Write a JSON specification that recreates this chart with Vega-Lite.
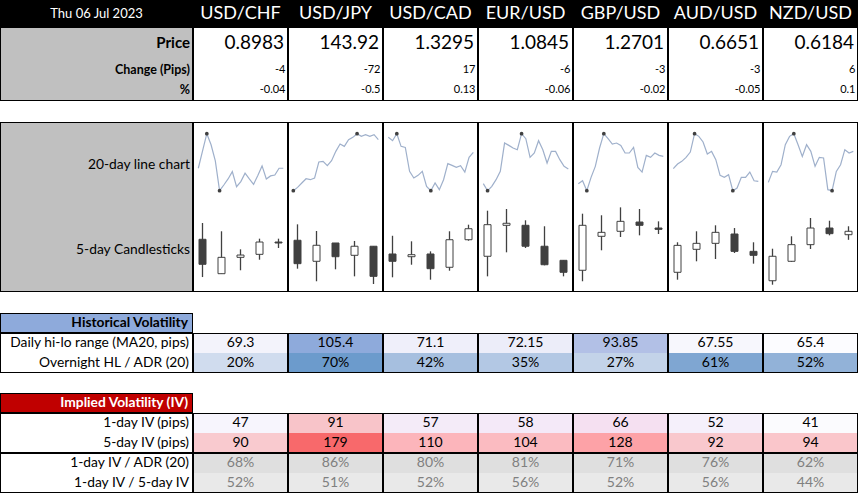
{
"$schema": "https://vega.github.io/schema/vega-lite/v6.json",
"padding": 0,
"background": "white",
"config": {"view": {"stroke": null}, "font": "Lato", "concat": {"spacing": 0}},
"datasets": {
"quotes": [
{"pair":"USD/CHF","price":0.8983,"change":-4,"pct":-0.04},
{"pair":"USD/JPY","price":143.92,"change":-72,"pct":-0.5},
{"pair":"USD/CAD","price":1.3295,"change":17,"pct":0.13},
{"pair":"EUR/USD","price":1.0845,"change":-6,"pct":-0.06},
{"pair":"GBP/USD","price":1.2701,"change":-3,"pct":-0.02},
{"pair":"AUD/USD","price":0.6651,"change":-3,"pct":-0.05},
{"pair":"NZD/USD","price":0.6184,"change":6,"pct":0.1}
],
"hist": [
{"pair":"USD/CHF","adr":69.3,"ovn":0.20},
{"pair":"USD/JPY","adr":105.4,"ovn":0.70},
{"pair":"USD/CAD","adr":71.1,"ovn":0.42},
{"pair":"EUR/USD","adr":72.15,"ovn":0.35},
{"pair":"GBP/USD","adr":93.85,"ovn":0.27},
{"pair":"AUD/USD","adr":67.55,"ovn":0.61},
{"pair":"NZD/USD","adr":65.4,"ovn":0.52}
],
"iv": [
{"pair":"USD/CHF","iv1":47,"iv5":90,"radr":0.68,"r5":0.52},
{"pair":"USD/JPY","iv1":91,"iv5":179,"radr":0.86,"r5":0.51},
{"pair":"USD/CAD","iv1":57,"iv5":110,"radr":0.80,"r5":0.52},
{"pair":"EUR/USD","iv1":58,"iv5":104,"radr":0.81,"r5":0.56},
{"pair":"GBP/USD","iv1":66,"iv5":128,"radr":0.71,"r5":0.52},
{"pair":"AUD/USD","iv1":52,"iv5":92,"radr":0.76,"r5":0.56},
{"pair":"NZD/USD","iv1":41,"iv5":94,"radr":0.62,"r5":0.44}
],
"spark": [
{"pair":"USD/CHF","kind":"line","day":1,"level":39.4},{"pair":"USD/CHF","kind":"line","day":2,"level":70},{"pair":"USD/CHF","kind":"line","day":3,"level":100},{"pair":"USD/CHF","kind":"line","day":4,"level":80.6},{"pair":"USD/CHF","kind":"line","day":5,"level":52.4},{"pair":"USD/CHF","kind":"line","day":6,"level":0},{"pair":"USD/CHF","kind":"line","day":7,"level":10},{"pair":"USD/CHF","kind":"line","day":8,"level":20.6},{"pair":"USD/CHF","kind":"line","day":9,"level":33.5},{"pair":"USD/CHF","kind":"line","day":10,"level":7.1},{"pair":"USD/CHF","kind":"line","day":11,"level":15.9},{"pair":"USD/CHF","kind":"line","day":12,"level":30.6},{"pair":"USD/CHF","kind":"line","day":13,"level":20.6},{"pair":"USD/CHF","kind":"line","day":14,"level":11.2},{"pair":"USD/CHF","kind":"line","day":15,"level":26.5},{"pair":"USD/CHF","kind":"line","day":16,"level":43.5},{"pair":"USD/CHF","kind":"line","day":17,"level":20.6},{"pair":"USD/CHF","kind":"line","day":18,"level":25.9},{"pair":"USD/CHF","kind":"line","day":19,"level":27.6},{"pair":"USD/CHF","kind":"line","day":20,"level":39.4},{"pair":"USD/CHF","kind":"line","day":21,"level":39.4},
{"pair":"USD/JPY","kind":"line","day":1,"level":0},{"pair":"USD/JPY","kind":"line","day":2,"level":5.8},{"pair":"USD/JPY","kind":"line","day":3,"level":13.5},{"pair":"USD/JPY","kind":"line","day":4,"level":21},{"pair":"USD/JPY","kind":"line","day":5,"level":19.3},{"pair":"USD/JPY","kind":"line","day":6,"level":22.2},{"pair":"USD/JPY","kind":"line","day":7,"level":50.3},{"pair":"USD/JPY","kind":"line","day":8,"level":51.5},{"pair":"USD/JPY","kind":"line","day":9,"level":43.9},{"pair":"USD/JPY","kind":"line","day":10,"level":52.6},{"pair":"USD/JPY","kind":"line","day":11,"level":69},{"pair":"USD/JPY","kind":"line","day":12,"level":81.9},{"pair":"USD/JPY","kind":"line","day":13,"level":77.8},{"pair":"USD/JPY","kind":"line","day":14,"level":89.5},{"pair":"USD/JPY","kind":"line","day":15,"level":93.6},{"pair":"USD/JPY","kind":"line","day":16,"level":100},{"pair":"USD/JPY","kind":"line","day":17,"level":95.3},{"pair":"USD/JPY","kind":"line","day":18,"level":98.2},{"pair":"USD/JPY","kind":"line","day":19,"level":95.3},{"pair":"USD/JPY","kind":"line","day":20,"level":98.2},{"pair":"USD/JPY","kind":"line","day":21,"level":89.5},
{"pair":"USD/CAD","kind":"line","day":1,"level":93.6},{"pair":"USD/CAD","kind":"line","day":2,"level":87.7},{"pair":"USD/CAD","kind":"line","day":3,"level":100},{"pair":"USD/CAD","kind":"line","day":4,"level":77.8},{"pair":"USD/CAD","kind":"line","day":5,"level":76},{"pair":"USD/CAD","kind":"line","day":6,"level":33.9},{"pair":"USD/CAD","kind":"line","day":7,"level":22.2},{"pair":"USD/CAD","kind":"line","day":8,"level":26.9},{"pair":"USD/CAD","kind":"line","day":9,"level":33.9},{"pair":"USD/CAD","kind":"line","day":10,"level":7.6},{"pair":"USD/CAD","kind":"line","day":11,"level":0},{"pair":"USD/CAD","kind":"line","day":12,"level":13.5},{"pair":"USD/CAD","kind":"line","day":13,"level":1.8},{"pair":"USD/CAD","kind":"line","day":14,"level":19.3},{"pair":"USD/CAD","kind":"line","day":15,"level":47.4},{"pair":"USD/CAD","kind":"line","day":16,"level":44.4},{"pair":"USD/CAD","kind":"line","day":17,"level":40.9},{"pair":"USD/CAD","kind":"line","day":18,"level":43.9},{"pair":"USD/CAD","kind":"line","day":19,"level":32.7},{"pair":"USD/CAD","kind":"line","day":20,"level":58.5},{"pair":"USD/CAD","kind":"line","day":21,"level":67.3},
{"pair":"EUR/USD","kind":"line","day":1,"level":12.3},{"pair":"EUR/USD","kind":"line","day":2,"level":0},{"pair":"EUR/USD","kind":"line","day":3,"level":7.6},{"pair":"EUR/USD","kind":"line","day":4,"level":19.3},{"pair":"EUR/USD","kind":"line","day":5,"level":33.9},{"pair":"EUR/USD","kind":"line","day":6,"level":83.6},{"pair":"EUR/USD","kind":"line","day":7,"level":79.5},{"pair":"EUR/USD","kind":"line","day":8,"level":74.9},{"pair":"EUR/USD","kind":"line","day":9,"level":71.9},{"pair":"EUR/USD","kind":"line","day":10,"level":100},{"pair":"EUR/USD","kind":"line","day":11,"level":91.2},{"pair":"EUR/USD","kind":"line","day":12,"level":58.5},{"pair":"EUR/USD","kind":"line","day":13,"level":66.1},{"pair":"EUR/USD","kind":"line","day":14,"level":87.7},{"pair":"EUR/USD","kind":"line","day":15,"level":71.9},{"pair":"EUR/USD","kind":"line","day":16,"level":48.5},{"pair":"EUR/USD","kind":"line","day":17,"level":69},{"pair":"EUR/USD","kind":"line","day":18,"level":69},{"pair":"EUR/USD","kind":"line","day":19,"level":54.4},{"pair":"EUR/USD","kind":"line","day":20,"level":42.7},{"pair":"EUR/USD","kind":"line","day":21,"level":38},
{"pair":"GBP/USD","kind":"line","day":1,"level":12.3},{"pair":"GBP/USD","kind":"line","day":2,"level":17.5},{"pair":"GBP/USD","kind":"line","day":3,"level":0},{"pair":"GBP/USD","kind":"line","day":4,"level":23.4},{"pair":"GBP/USD","kind":"line","day":5,"level":42.7},{"pair":"GBP/USD","kind":"line","day":6,"level":74.9},{"pair":"GBP/USD","kind":"line","day":7,"level":100},{"pair":"GBP/USD","kind":"line","day":8,"level":91.2},{"pair":"GBP/USD","kind":"line","day":9,"level":81.9},{"pair":"GBP/USD","kind":"line","day":10,"level":83.6},{"pair":"GBP/USD","kind":"line","day":11,"level":79.5},{"pair":"GBP/USD","kind":"line","day":12,"level":66.1},{"pair":"GBP/USD","kind":"line","day":13,"level":66.1},{"pair":"GBP/USD","kind":"line","day":14,"level":76},{"pair":"GBP/USD","kind":"line","day":15,"level":40.9},{"pair":"GBP/USD","kind":"line","day":16,"level":32.7},{"pair":"GBP/USD","kind":"line","day":17,"level":62},{"pair":"GBP/USD","kind":"line","day":18,"level":58.5},{"pair":"GBP/USD","kind":"line","day":19,"level":66.1},{"pair":"GBP/USD","kind":"line","day":20,"level":62},{"pair":"GBP/USD","kind":"line","day":21,"level":60.2},
{"pair":"AUD/USD","kind":"line","day":1,"level":38.6},{"pair":"AUD/USD","kind":"line","day":2,"level":46.8},{"pair":"AUD/USD","kind":"line","day":3,"level":51.5},{"pair":"AUD/USD","kind":"line","day":4,"level":58.5},{"pair":"AUD/USD","kind":"line","day":5,"level":67.8},{"pair":"AUD/USD","kind":"line","day":6,"level":100},{"pair":"AUD/USD","kind":"line","day":7,"level":95.3},{"pair":"AUD/USD","kind":"line","day":8,"level":85.4},{"pair":"AUD/USD","kind":"line","day":9,"level":64.3},{"pair":"AUD/USD","kind":"line","day":10,"level":69},{"pair":"AUD/USD","kind":"line","day":11,"level":54.4},{"pair":"AUD/USD","kind":"line","day":12,"level":26.9},{"pair":"AUD/USD","kind":"line","day":13,"level":23.4},{"pair":"AUD/USD","kind":"line","day":14,"level":28.1},{"pair":"AUD/USD","kind":"line","day":15,"level":0},{"pair":"AUD/USD","kind":"line","day":16,"level":4.7},{"pair":"AUD/USD","kind":"line","day":17,"level":23.4},{"pair":"AUD/USD","kind":"line","day":18,"level":23.4},{"pair":"AUD/USD","kind":"line","day":19,"level":32.7},{"pair":"AUD/USD","kind":"line","day":20,"level":17.5},{"pair":"AUD/USD","kind":"line","day":21,"level":16.4},
{"pair":"NZD/USD","kind":"line","day":1,"level":14.6},{"pair":"NZD/USD","kind":"line","day":2,"level":33.9},{"pair":"NZD/USD","kind":"line","day":3,"level":32.7},{"pair":"NZD/USD","kind":"line","day":4,"level":45.6},{"pair":"NZD/USD","kind":"line","day":5,"level":80.7},{"pair":"NZD/USD","kind":"line","day":6,"level":95.3},{"pair":"NZD/USD","kind":"line","day":7,"level":100},{"pair":"NZD/USD","kind":"line","day":8,"level":80.7},{"pair":"NZD/USD","kind":"line","day":9,"level":60.2},{"pair":"NZD/USD","kind":"line","day":10,"level":80.7},{"pair":"NZD/USD","kind":"line","day":11,"level":69},{"pair":"NZD/USD","kind":"line","day":12,"level":42.7},{"pair":"NZD/USD","kind":"line","day":13,"level":58.5},{"pair":"NZD/USD","kind":"line","day":14,"level":57.3},{"pair":"NZD/USD","kind":"line","day":15,"level":1.8},{"pair":"NZD/USD","kind":"line","day":16,"level":0},{"pair":"NZD/USD","kind":"line","day":17,"level":33.9},{"pair":"NZD/USD","kind":"line","day":18,"level":45.6},{"pair":"NZD/USD","kind":"line","day":19,"level":71.9},{"pair":"NZD/USD","kind":"line","day":20,"level":66.1},{"pair":"NZD/USD","kind":"line","day":21,"level":69},
{"pair":"USD/CHF","kind":"candle","day":1,"open":59.9,"high":78.4,"low":17.0,"close":31.5},
{"pair":"USD/CHF","kind":"candle","day":2,"open":20.8,"high":69.0,"low":20.8,"close":39.4},
{"pair":"USD/CHF","kind":"candle","day":3,"open":39.4,"high":48.5,"low":24.7,"close":42.0},
{"pair":"USD/CHF","kind":"candle","day":4,"open":42.8,"high":60.6,"low":36.7,"close":56.8},
{"pair":"USD/CHF","kind":"candle","day":5,"open":56.8,"high":60.6,"low":50.0,"close":55.7},
{"pair":"USD/JPY","kind":"candle","day":1,"open":58.8,"high":76.9,"low":26.5,"close":32.2},
{"pair":"USD/JPY","kind":"candle","day":2,"open":34.9,"high":69.3,"low":12.2,"close":53.1},
{"pair":"USD/JPY","kind":"candle","day":3,"open":55.7,"high":55.7,"low":25.8,"close":40.1},
{"pair":"USD/JPY","kind":"candle","day":4,"open":41.7,"high":58.0,"low":17.8,"close":52.0},
{"pair":"USD/JPY","kind":"candle","day":5,"open":52.0,"high":52.0,"low":9.1,"close":17.8},
{"pair":"USD/CAD","kind":"candle","day":1,"open":43.2,"high":63.9,"low":16.7,"close":34.9},
{"pair":"USD/CAD","kind":"candle","day":2,"open":40.1,"high":57.6,"low":31.0,"close":42.4},
{"pair":"USD/CAD","kind":"candle","day":3,"open":43.2,"high":46.2,"low":14.0,"close":26.5},
{"pair":"USD/CAD","kind":"candle","day":4,"open":28.1,"high":69.0,"low":24.2,"close":59.4},
{"pair":"USD/CAD","kind":"candle","day":5,"open":59.4,"high":76.5,"low":58.3,"close":71.9},
{"pair":"EUR/USD","kind":"candle","day":1,"open":40.6,"high":92.4,"low":17.8,"close":76.5},
{"pair":"EUR/USD","kind":"candle","day":2,"open":75.8,"high":94.3,"low":45.1,"close":78.1},
{"pair":"EUR/USD","kind":"candle","day":3,"open":75.8,"high":81.5,"low":50.0,"close":52.0},
{"pair":"EUR/USD","kind":"candle","day":4,"open":52.0,"high":74.7,"low":30.3,"close":31.0},
{"pair":"EUR/USD","kind":"candle","day":5,"open":36.0,"high":36.0,"low":17.8,"close":22.4},
{"pair":"GBP/USD","kind":"candle","day":1,"open":24.7,"high":89.0,"low":12.2,"close":75.8},
{"pair":"GBP/USD","kind":"candle","day":2,"open":63.3,"high":87.2,"low":47.4,"close":67.8},
{"pair":"GBP/USD","kind":"candle","day":3,"open":69.0,"high":96.2,"low":62.5,"close":80.3},
{"pair":"GBP/USD","kind":"candle","day":4,"open":79.5,"high":94.3,"low":64.4,"close":75.8},
{"pair":"GBP/USD","kind":"candle","day":5,"open":72.7,"high":80.3,"low":65.9,"close":71.2},
{"pair":"AUD/USD","kind":"candle","day":1,"open":22.4,"high":56.5,"low":14.0,"close":53.0},
{"pair":"AUD/USD","kind":"candle","day":2,"open":48.5,"high":69.0,"low":34.9,"close":55.3},
{"pair":"AUD/USD","kind":"candle","day":3,"open":55.3,"high":75.8,"low":37.5,"close":67.8},
{"pair":"AUD/USD","kind":"candle","day":4,"open":65.9,"high":72.7,"low":44.3,"close":46.2},
{"pair":"AUD/USD","kind":"candle","day":5,"open":46.2,"high":56.5,"low":32.2,"close":41.7},
{"pair":"NZD/USD","kind":"candle","day":1,"open":12.8,"high":49.2,"low":8.3,"close":40.6},
{"pair":"NZD/USD","kind":"candle","day":2,"open":34.9,"high":63.3,"low":34.1,"close":53.8},
{"pair":"NZD/USD","kind":"candle","day":3,"open":53.8,"high":84.1,"low":48.9,"close":72.7},
{"pair":"NZD/USD","kind":"candle","day":4,"open":72.7,"high":81.0,"low":64.4,"close":66.3},
{"pair":"NZD/USD","kind":"candle","day":5,"open":65.1,"high":74.7,"low":59.3,"close":69.0}
]
},
"spacing": 0,
"hconcat": [
{"spacing": 0, "vconcat": [
{"width":193,"height":27,"data":{"values":[{"t":"Thu 06 Jul 2023"}]},"layer":[
 {"mark":{"type":"rect","fill":"#000000","clip":true},"encoding":{}},
 {"mark":{"type":"text","color":"#ffffff","fontSize":13},"encoding":{"text":{"field":"t"}}}
]},
{"width":193,"height":74,"data":{"values":[{"t":"Price","k":"Price"},{"t":"Change (Pips)","k":"Change"},{"t":"%","k":"Pct"}]},"layer":[
 {"mark":{"type":"rect","fill":"#c0c0c0","stroke":"#000000","strokeWidth":2,"clip":true},"encoding":{}},
 {"transform":[{"filter":"datum.k==='Price'"}],"mark":{"type":"text","align":"right","dx":-3,"dy":4,"fontSize":15,"fontWeight":"bold"},"encoding":{"x":{"value":"width"},"y":{"field":"k","type":"nominal","scale":{"type":"band","domain":["Price","Change","Pct"],"paddingInner":0,"paddingOuter":0},"axis":null},"text":{"field":"t"}}},
 {"transform":[{"filter":"datum.k==='Change'"}],"mark":{"type":"text","align":"right","dx":-3,"dy":6,"fontSize":12.5,"fontWeight":"bold"},"encoding":{"x":{"value":"width"},"y":{"field":"k","type":"nominal","scale":{"type":"band","domain":["Price","Change","Pct"],"paddingInner":0,"paddingOuter":0},"axis":null},"text":{"field":"t"}}},
 {"transform":[{"filter":"datum.k==='Pct'"}],"mark":{"type":"text","align":"right","dx":-3,"dy":1.5,"fontSize":12.5,"fontWeight":"bold"},"encoding":{"x":{"value":"width"},"y":{"field":"k","type":"nominal","scale":{"type":"band","domain":["Price","Change","Pct"],"paddingInner":0,"paddingOuter":0},"axis":null},"text":{"field":"t"}}}
]},
{"width":193,"height":21,"data":{"values":[{}]},"mark":{"type":"text"},"encoding":{"text":{"value":""}}},
{"width":193,"height":170,"data":{"values":[{"t":"20-day line chart"},{"t":"5-day Candlesticks"}]},"layer":[
 {"mark":{"type":"rect","fill":"#c0c0c0","stroke":"#000000","strokeWidth":2,"clip":true},"encoding":{}},
 {"mark":{"type":"text","align":"right","dx":-3,"fontSize":13.8},"encoding":{"x":{"value":"width"},"y":{"field":"t","type":"nominal","sort":null,"scale":{"type":"band","paddingInner":0,"paddingOuter":0},"axis":null},"text":{"field":"t"}}}
]},
{"width":193,"height":21,"data":{"values":[{}]},"mark":{"type":"text"},"encoding":{"text":{"value":""}}},
{"width":193,"height":20,"data":{"values":[{"t":"Historical Volatility"}]},"layer":[
 {"mark":{"type":"rect","fill":"#8eaadb","stroke":"#000000","strokeWidth":2,"clip":true},"encoding":{}},
 {"mark":{"type":"text","align":"right","dx":-5,"fontSize":13.8,"fontWeight":"bold"},"encoding":{"x":{"value":"width"},"text":{"field":"t"}}}
]},
{"width":193,"height":40,"data":{"values":[{"t":"Daily hi-lo range (MA20, pips)"},{"t":"Overnight HL / ADR (20)"}]},"layer":[
 {"mark":{"type":"rect","fill":"#ffffff","stroke":"#000000","strokeWidth":2,"clip":true},"encoding":{}},
 {"mark":{"type":"text","align":"right","dx":-4,"fontSize":13.8},"encoding":{"x":{"value":"width"},"y":{"field":"t","type":"nominal","sort":null,"scale":{"type":"band","paddingInner":0,"paddingOuter":0},"axis":null},"text":{"field":"t"}}}
]},
{"width":193,"height":20,"data":{"values":[{}]},"mark":{"type":"text"},"encoding":{"text":{"value":""}}},
{"width":193,"height":20,"data":{"values":[{"t":"Implied Volatility (IV)"}]},"layer":[
 {"mark":{"type":"rect","fill":"#c00000","stroke":"#000000","strokeWidth":2,"clip":true},"encoding":{}},
 {"mark":{"type":"text","align":"right","dx":-5,"fontSize":13.8,"fontWeight":"bold","color":"#ffffff"},"encoding":{"x":{"value":"width"},"text":{"field":"t"}}}
]},
{"width":193,"height":40,"data":{"values":[{"t":"1-day IV (pips)"},{"t":"5-day IV (pips)"}]},"layer":[
 {"mark":{"type":"rect","fill":"#ffffff","stroke":"#000000","strokeWidth":2,"clip":true},"encoding":{}},
 {"mark":{"type":"text","align":"right","dx":-4,"fontSize":13.8},"encoding":{"x":{"value":"width"},"y":{"field":"t","type":"nominal","sort":null,"scale":{"type":"band","paddingInner":0,"paddingOuter":0},"axis":null},"text":{"field":"t"}}}
]},
{"width":193,"height":40,"data":{"values":[{"t":"1-day IV / ADR (20)"},{"t":"1-day IV / 5-day IV"}]},"layer":[
 {"mark":{"type":"rect","fill":"#ffffff","stroke":"#000000","strokeWidth":2,"clip":true},"encoding":{}},
 {"mark":{"type":"text","align":"right","dx":-4,"fontSize":13.8},"encoding":{"x":{"value":"width"},"y":{"field":"t","type":"nominal","sort":null,"scale":{"type":"band","paddingInner":0,"paddingOuter":0},"axis":null},"text":{"field":"t"}}}
]}
]},
{"spacing": 0, "vconcat": [
{"width":665,"height":27,"data":{"name":"quotes"},"layer":[
 {"mark":{"type":"rect","fill":"#000000","clip":true},"encoding":{"x":{"field":"pair","type":"nominal","scale":{"type":"band","domain":["USD/CHF","USD/JPY","USD/CAD","EUR/USD","GBP/USD","AUD/USD","NZD/USD"],"paddingInner":0,"paddingOuter":0},"axis":null}}},
 {"mark":{"type":"text","color":"#ffffff","fontSize":18},"encoding":{"x":{"field":"pair","type":"nominal","scale":{"type":"band","domain":["USD/CHF","USD/JPY","USD/CAD","EUR/USD","GBP/USD","AUD/USD","NZD/USD"],"paddingInner":0,"paddingOuter":0},"axis":null},"text":{"field":"pair"}}}
]},
{"width":665,"height":74,"data":{"name":"quotes"},"layer":[
 {"mark":{"type":"rect","fill":"#ffffff","stroke":"#000000","strokeWidth":2,"clip":true},"encoding":{"x":{"field":"pair","type":"nominal","scale":{"type":"band","domain":["USD/CHF","USD/JPY","USD/CAD","EUR/USD","GBP/USD","AUD/USD","NZD/USD"],"paddingInner":0,"paddingOuter":0},"axis":null}}},
 {"mark":{"type":"text","align":"right","dx":-4,"dy":4,"fontSize":19},"encoding":{"x":{"field":"pair","type":"nominal","bandPosition":1,"scale":{"type":"band","domain":["USD/CHF","USD/JPY","USD/CAD","EUR/USD","GBP/USD","AUD/USD","NZD/USD"],"paddingInner":0,"paddingOuter":0},"axis":null},"y":{"datum":"Price","type":"nominal","scale":{"type":"band","domain":["Price","Change","Pct"],"paddingInner":0,"paddingOuter":0},"axis":null},"text":{"field":"price","type":"nominal"}}},
 {"mark":{"type":"text","align":"right","dx":-2.5,"dy":6,"fontSize":11},"encoding":{"x":{"field":"pair","type":"nominal","bandPosition":1,"scale":{"type":"band","domain":["USD/CHF","USD/JPY","USD/CAD","EUR/USD","GBP/USD","AUD/USD","NZD/USD"],"paddingInner":0,"paddingOuter":0},"axis":null},"y":{"datum":"Change","type":"nominal","scale":{"type":"band","domain":["Price","Change","Pct"],"paddingInner":0,"paddingOuter":0},"axis":null},"text":{"field":"change","type":"nominal"}}},
 {"mark":{"type":"text","align":"right","dx":-2.5,"dy":1.5,"fontSize":11},"encoding":{"x":{"field":"pair","type":"nominal","bandPosition":1,"scale":{"type":"band","domain":["USD/CHF","USD/JPY","USD/CAD","EUR/USD","GBP/USD","AUD/USD","NZD/USD"],"paddingInner":0,"paddingOuter":0},"axis":null},"y":{"datum":"Pct","type":"nominal","scale":{"type":"band","domain":["Price","Change","Pct"],"paddingInner":0,"paddingOuter":0},"axis":null},"text":{"field":"pct","type":"nominal"}}}
]},
{"width":665,"height":21,"data":{"values":[{}]},"mark":{"type":"text"},"encoding":{"text":{"value":""}}},
{"data":{"name":"spark"},"spacing":0,
 "facet":{"column":{"field":"pair","type":"nominal","sort":["USD/CHF","USD/JPY","USD/CAD","EUR/USD","GBP/USD","AUD/USD","NZD/USD"],"header":null}},
 "spec":{"width":95,"height":170,
  "resolve":{"scale":{"x":"independent","y":"independent"}},
  "layer":[
   {"transform":[{"filter":"datum.kind==='candle' && datum.day===1"}],"mark":{"type":"rect","fill":"#ffffff","stroke":"#000000","strokeWidth":2,"clip":true},"encoding":{}},
   {"transform":[{"filter":"datum.kind==='line'"}],"mark":{"type":"line","color":"#9fb0cb","strokeWidth":1.2},"encoding":{"x":{"field":"day","type":"quantitative","scale":{"domain":[-0.25,22.1],"nice":false,"zero":false},"axis":null},"y":{"field":"level","type":"quantitative","scale":{"domain":[-177.7,120.5],"nice":false,"zero":false},"axis":null}}},
   {"transform":[{"filter":"datum.kind==='line'"},{"joinaggregate":[{"op":"max","field":"level","as":"mx"},{"op":"min","field":"level","as":"mn"}],"groupby":["pair"]},{"filter":"datum.level===datum.mx || datum.level===datum.mn"}],"mark":{"type":"point","filled":true,"color":"#404040","size":14,"opacity":1},"encoding":{"x":{"field":"day","type":"quantitative","scale":{"domain":[-0.25,22.1],"nice":false,"zero":false},"axis":null},"y":{"field":"level","type":"quantitative","scale":{"domain":[-177.7,120.5],"nice":false,"zero":false},"axis":null}}},
   {"transform":[{"filter":"datum.kind==='candle'"}],"mark":{"type":"rule","color":"#404040","strokeWidth":1.3},"encoding":{"x":{"field":"day","type":"ordinal","scale":{"type":"band","domain":[1,2,3,4,5],"paddingInner":0,"paddingOuter":0},"axis":null},"y":{"field":"low","type":"quantitative","scale":{"domain":[0,193.2],"nice":false,"zero":false},"axis":null},"y2":{"field":"high"}}},
   {"transform":[{"filter":"datum.kind==='candle'"}],"mark":{"type":"bar","size":7,"stroke":"#404040","strokeWidth":1},"encoding":{"x":{"field":"day","type":"ordinal","scale":{"type":"band","domain":[1,2,3,4,5],"paddingInner":0,"paddingOuter":0},"axis":null},"y":{"field":"open","type":"quantitative","scale":{"domain":[0,193.2],"nice":false,"zero":false},"axis":null},"y2":{"field":"close"},"fill":{"condition":{"test":"datum.close < datum.open","value":"#404040"},"value":"#ffffff"}}}
  ]}
},
{"width":665,"height":41,"data":{"values":[{}]},"mark":{"type":"text"},"encoding":{"text":{"value":""}}},
{"width":665,"height":40,"data":{"name":"hist"},
 "resolve":{"scale":{"color":"independent"}},
 "layer":[
 {"mark":{"type":"rect","clip":true},"encoding":{"x":{"field":"pair","type":"nominal","scale":{"type":"band","domain":["USD/CHF","USD/JPY","USD/CAD","EUR/USD","GBP/USD","AUD/USD","NZD/USD"],"paddingInner":0,"paddingOuter":0},"axis":null},"y":{"datum":"hilo","type":"nominal","scale":{"type":"band","domain":["hilo","ovn"],"paddingInner":0,"paddingOuter":0},"axis":null},"color":{"field":"adr","type":"quantitative","scale":{"domain":[65.4,105.4],"range":["#fcfcff","#8eaadb"]},"legend":null}}},
 {"mark":{"type":"rect","clip":true},"encoding":{"x":{"field":"pair","type":"nominal","scale":{"type":"band","domain":["USD/CHF","USD/JPY","USD/CAD","EUR/USD","GBP/USD","AUD/USD","NZD/USD"],"paddingInner":0,"paddingOuter":0},"axis":null},"y":{"datum":"ovn","type":"nominal","scale":{"type":"band","domain":["hilo","ovn"],"paddingInner":0,"paddingOuter":0},"axis":null},"color":{"field":"ovn","type":"quantitative","scale":{"domain":[0.2,0.7],"range":["#d0dcee","#6c9bcc"]},"legend":null}}},
 {"mark":{"type":"rect","fill":null,"fillOpacity":0,"stroke":"#000000","strokeWidth":2,"clip":true},"encoding":{"x":{"field":"pair","type":"nominal","scale":{"type":"band","domain":["USD/CHF","USD/JPY","USD/CAD","EUR/USD","GBP/USD","AUD/USD","NZD/USD"],"paddingInner":0,"paddingOuter":0},"axis":null}}},
 {"mark":{"type":"text","fontSize":14,"color":"#000000"},"encoding":{"x":{"field":"pair","type":"nominal","scale":{"type":"band","domain":["USD/CHF","USD/JPY","USD/CAD","EUR/USD","GBP/USD","AUD/USD","NZD/USD"],"paddingInner":0,"paddingOuter":0},"axis":null},"y":{"datum":"hilo","type":"nominal","scale":{"type":"band","domain":["hilo","ovn"],"paddingInner":0,"paddingOuter":0},"axis":null},"text":{"field":"adr","type":"nominal"}}},
 {"mark":{"type":"text","fontSize":14,"color":"#000000"},"encoding":{"x":{"field":"pair","type":"nominal","scale":{"type":"band","domain":["USD/CHF","USD/JPY","USD/CAD","EUR/USD","GBP/USD","AUD/USD","NZD/USD"],"paddingInner":0,"paddingOuter":0},"axis":null},"y":{"datum":"ovn","type":"nominal","scale":{"type":"band","domain":["hilo","ovn"],"paddingInner":0,"paddingOuter":0},"axis":null},"text":{"field":"ovn","type":"quantitative","format":".0%"}}}
]},
{"width":665,"height":40,"data":{"values":[{}]},"mark":{"type":"text"},"encoding":{"text":{"value":""}}},
{"width":665,"height":40,"data":{"name":"iv"},
 "resolve":{"scale":{"color":"independent"}},
 "layer":[
 {"mark":{"type":"rect","clip":true},"encoding":{"x":{"field":"pair","type":"nominal","scale":{"type":"band","domain":["USD/CHF","USD/JPY","USD/CAD","EUR/USD","GBP/USD","AUD/USD","NZD/USD"],"paddingInner":0,"paddingOuter":0},"axis":null},"y":{"datum":"iv1","type":"nominal","scale":{"type":"band","domain":["iv1","iv5"],"paddingInner":0,"paddingOuter":0},"axis":null},"color":{"field":"iv1","type":"quantitative","scale":{"domain":[41,91],"range":["#fbfbfe","#f8c4c9"]},"legend":null}}},
 {"mark":{"type":"rect","clip":true},"encoding":{"x":{"field":"pair","type":"nominal","scale":{"type":"band","domain":["USD/CHF","USD/JPY","USD/CAD","EUR/USD","GBP/USD","AUD/USD","NZD/USD"],"paddingInner":0,"paddingOuter":0},"axis":null},"y":{"datum":"iv5","type":"nominal","scale":{"type":"band","domain":["iv1","iv5"],"paddingInner":0,"paddingOuter":0},"axis":null},"color":{"field":"iv5","type":"quantitative","scale":{"domain":[90,179],"range":["#f9cacf","#f8696b"]},"legend":null}}},
 {"mark":{"type":"rect","fill":null,"fillOpacity":0,"stroke":"#000000","strokeWidth":2,"clip":true},"encoding":{"x":{"field":"pair","type":"nominal","scale":{"type":"band","domain":["USD/CHF","USD/JPY","USD/CAD","EUR/USD","GBP/USD","AUD/USD","NZD/USD"],"paddingInner":0,"paddingOuter":0},"axis":null}}},
 {"mark":{"type":"text","fontSize":14,"color":"#000000"},"encoding":{"x":{"field":"pair","type":"nominal","scale":{"type":"band","domain":["USD/CHF","USD/JPY","USD/CAD","EUR/USD","GBP/USD","AUD/USD","NZD/USD"],"paddingInner":0,"paddingOuter":0},"axis":null},"y":{"datum":"iv1","type":"nominal","scale":{"type":"band","domain":["iv1","iv5"],"paddingInner":0,"paddingOuter":0},"axis":null},"text":{"field":"iv1","type":"nominal"}}},
 {"mark":{"type":"text","fontSize":14,"color":"#000000"},"encoding":{"x":{"field":"pair","type":"nominal","scale":{"type":"band","domain":["USD/CHF","USD/JPY","USD/CAD","EUR/USD","GBP/USD","AUD/USD","NZD/USD"],"paddingInner":0,"paddingOuter":0},"axis":null},"y":{"datum":"iv5","type":"nominal","scale":{"type":"band","domain":["iv1","iv5"],"paddingInner":0,"paddingOuter":0},"axis":null},"text":{"field":"iv5","type":"nominal"}}}
]},
{"width":665,"height":40,"data":{"name":"iv"},
 "layer":[
 {"mark":{"type":"rect","fill":"#dfdfdf","clip":true},"encoding":{"x":{"field":"pair","type":"nominal","scale":{"type":"band","domain":["USD/CHF","USD/JPY","USD/CAD","EUR/USD","GBP/USD","AUD/USD","NZD/USD"],"paddingInner":0,"paddingOuter":0},"axis":null},"y":{"datum":"radr","type":"nominal","scale":{"type":"band","domain":["radr","r5"],"paddingInner":0,"paddingOuter":0},"axis":null}}},
 {"mark":{"type":"rect","fill":"#e9e9e9","clip":true},"encoding":{"x":{"field":"pair","type":"nominal","scale":{"type":"band","domain":["USD/CHF","USD/JPY","USD/CAD","EUR/USD","GBP/USD","AUD/USD","NZD/USD"],"paddingInner":0,"paddingOuter":0},"axis":null},"y":{"datum":"r5","type":"nominal","scale":{"type":"band","domain":["radr","r5"],"paddingInner":0,"paddingOuter":0},"axis":null}}},
 {"mark":{"type":"rect","fill":null,"fillOpacity":0,"stroke":"#000000","strokeWidth":2,"clip":true},"encoding":{"x":{"field":"pair","type":"nominal","scale":{"type":"band","domain":["USD/CHF","USD/JPY","USD/CAD","EUR/USD","GBP/USD","AUD/USD","NZD/USD"],"paddingInner":0,"paddingOuter":0},"axis":null}}},
 {"mark":{"type":"text","fontSize":14,"color":"#808080"},"encoding":{"x":{"field":"pair","type":"nominal","scale":{"type":"band","domain":["USD/CHF","USD/JPY","USD/CAD","EUR/USD","GBP/USD","AUD/USD","NZD/USD"],"paddingInner":0,"paddingOuter":0},"axis":null},"y":{"datum":"radr","type":"nominal","scale":{"type":"band","domain":["radr","r5"],"paddingInner":0,"paddingOuter":0},"axis":null},"text":{"field":"radr","type":"quantitative","format":".0%"}}},
 {"mark":{"type":"text","fontSize":14,"color":"#808080"},"encoding":{"x":{"field":"pair","type":"nominal","scale":{"type":"band","domain":["USD/CHF","USD/JPY","USD/CAD","EUR/USD","GBP/USD","AUD/USD","NZD/USD"],"paddingInner":0,"paddingOuter":0},"axis":null},"y":{"datum":"r5","type":"nominal","scale":{"type":"band","domain":["radr","r5"],"paddingInner":0,"paddingOuter":0},"axis":null},"text":{"field":"r5","type":"quantitative","format":".0%"}}}
]}
]}
]
}
